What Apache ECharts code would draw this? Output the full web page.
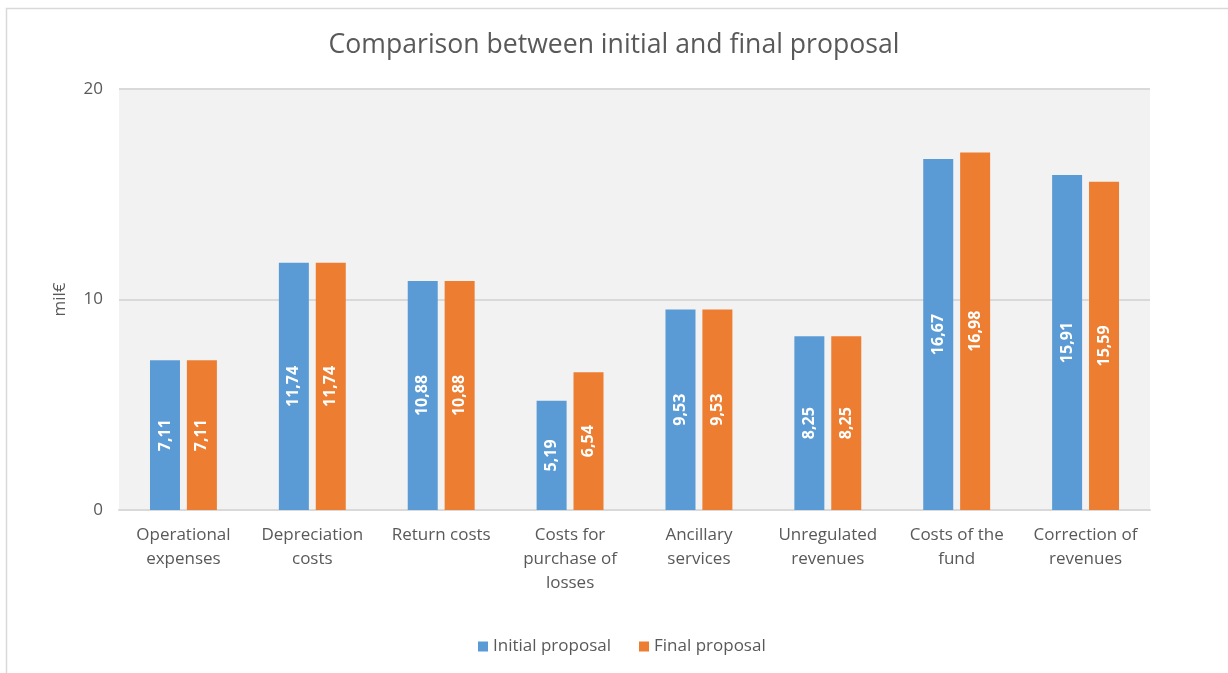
<!DOCTYPE html>
<html><head><meta charset="utf-8">
<script src="https://cdn.jsdelivr.net/npm/echarts@6/dist/echarts.min.js"></script>
<style>html,body{margin:0;padding:0;background:#fff}#c{width:1228px;height:673px}</style>
</head><body><div id="c"></div>
<script>
const categories = ["Operational\nexpenses","Depreciation\ncosts","Return costs","Costs for\npurchase of\nlosses","Ancillary\nservices","Unregulated\nrevenues","Costs of the\nfund","Correction of\nrevenues"];
const initialProposal = [7.11, 11.74, 10.88, 5.19, 9.53, 8.25, 16.67, 15.91];
const finalProposal = [7.11, 11.74, 10.88, 6.54, 9.53, 8.25, 16.98, 15.59];
const seriesNames = ["Initial proposal", "Final proposal"];
const yTicks = {min: 0, max: 20, interval: 10};

const FONT = '"Open Sans", "Noto Sans", sans-serif';
const chart = echarts.init(document.getElementById('c'), null, {renderer: 'canvas'});
const lbl = {
  show: true, position: 'inside', rotate: 90, color: '#fff', fontWeight: 'bold',
  fontSize: 16, fontFamily: FONT,
  formatter: p => p.value.toFixed(2).replace('.', ',')
};
chart.setOption({
  animation: false,
  textStyle: {fontFamily: FONT},
  graphic: [{type: 'rect', shape: {x: 6.5, y: 8.5, width: 1300, height: 700},
    style: {fill: 'none', stroke: '#D9D9D9', lineWidth: 1.5}, silent: true, z: -10}],
  title: {text: 'Comparison between initial and final proposal', left: 'center', top: 27,
    textStyle: {fontSize: 26.6, fontWeight: 'normal', color: '#595959', fontFamily: FONT}},
  legend: {bottom: 13, left: 473, itemWidth: 10, itemHeight: 10, itemGap: 28,
    icon: 'rect', textStyle: {fontSize: 17, color: '#595959', fontFamily: FONT},
    data: seriesNames},
  grid: {left: 119, right: 78, top: 89, bottom: 163, show: true, backgroundColor: '#F2F2F2', borderWidth: 0},
  xAxis: {type: 'category', data: categories,
    axisLine: {show: true, lineStyle: {color: '#D9D9D9', width: 2}},
    axisTick: {show: false},
    axisLabel: {fontSize: 17, color: '#595959', lineHeight: 24, margin: 13, interval: 0, fontFamily: FONT}},
  yAxis: {type: 'value', min: yTicks.min, max: yTicks.max, interval: yTicks.interval,
    name: 'mil€', nameLocation: 'middle', nameGap: 50, nameRotate: 90,
    nameTextStyle: {fontSize: 17, color: '#595959', fontFamily: FONT},
    axisLine: {show: false}, axisTick: {show: false},
    axisLabel: {fontSize: 17, color: '#595959', margin: 16, fontFamily: FONT},
    splitLine: {lineStyle: {color: '#D9D9D9', width: 2}}},
  series: [
    {name: seriesNames[0], type: 'bar', data: initialProposal, barWidth: 30, barGap: '23%',
     itemStyle: {color: '#5B9BD5'}, label: lbl},
    {name: seriesNames[1], type: 'bar', data: finalProposal, barWidth: 30,
     itemStyle: {color: '#ED7D31'}, label: lbl}
  ]
});
</script></body></html>
